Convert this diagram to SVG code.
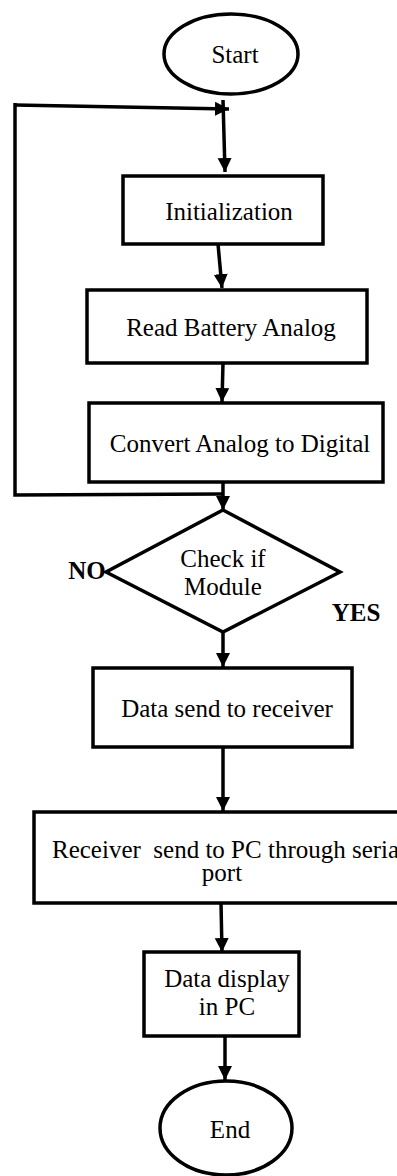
<svg xmlns="http://www.w3.org/2000/svg" width="397" height="1176" viewBox="0 0 397 1176">
<style>
.s{fill:#fff;stroke:#000;stroke-width:3.5}
.t{font-family:"Liberation Serif","Times New Roman",serif;font-size:25px;fill:#000;text-anchor:middle}
.b{font-weight:bold}
.c{fill:none;stroke:#000;stroke-width:3.5}
</style>
<defs>
<marker id="ah" markerUnits="userSpaceOnUse" markerWidth="14" markerHeight="16" refX="14" refY="7" orient="auto">
<path d="M0,0 L14,7 L0,14 Z" fill="#000"/>
</marker>
</defs>
<rect width="397" height="1176" fill="#fff"/>
<g id="start"><ellipse class="s" cx="231" cy="54" rx="67" ry="40"/><text class="t" x="235" y="63">Start</text></g>
<g id="init"><rect class="s" x="123" y="176" width="200" height="68"/><text class="t" x="229" y="220">Initialization</text></g>
<g id="read"><rect class="s" x="87" y="290" width="280" height="73"/><text class="t" x="231" y="336">Read Battery Analog</text></g>
<g id="convert"><rect class="s" x="89" y="403" width="294" height="79"/><text class="t" x="240" y="452">Convert Analog to Digital</text></g>
<g id="check"><polygon class="s" points="223,510 340,572 223,632 106,572"/><text class="t" x="223" y="567">Check if</text><text class="t" x="223" y="595">Module</text></g>
<g id="no"><text class="t b" x="87" y="579">NO</text></g>
<g id="yes"><text class="t b" x="356" y="621">YES</text></g>
<g id="send"><rect class="s" x="93" y="668" width="259" height="79"/><text class="t" x="227" y="717">Data send to receiver</text></g>
<g id="receiver"><rect class="s" x="34" y="812" width="380" height="91"/><text class="t" x="52" y="858" style="text-anchor:start" xml:space="preserve">Receiver  send to PC through serial</text><text class="t" x="222" y="881">port</text></g>
<g id="display"><rect class="s" x="144" y="952" width="155" height="84"/><text class="t" x="227" y="987">Data display</text><text class="t" x="227" y="1015">in PC</text></g>
<g id="end"><ellipse class="s" cx="226" cy="1128" rx="66" ry="47"/><text class="t" x="230" y="1138">End</text></g>
<g id="connectors">
<path class="c" d="M223,100 L225,172" marker-end="url(#ah)"/>
<path class="c" d="M15,105 L229,109" marker-end="url(#ah)"/>
<path class="c" d="M15,103 L15,495 L222,494"/>
<path class="c" d="M218,244 L222,288" marker-end="url(#ah)"/>
<path class="c" d="M223,363 L222,402" marker-end="url(#ah)"/>
<path class="c" d="M223,482 L223,510" marker-end="url(#ah)"/>
<path class="c" d="M223,632 L223,667" marker-end="url(#ah)"/>
<path class="c" d="M223,747 L223,811" marker-end="url(#ah)"/>
<path class="c" d="M221,903 L222,952" marker-end="url(#ah)"/>
<path class="c" d="M225,1036 L225,1080" marker-end="url(#ah)"/>
</g>
</svg>
